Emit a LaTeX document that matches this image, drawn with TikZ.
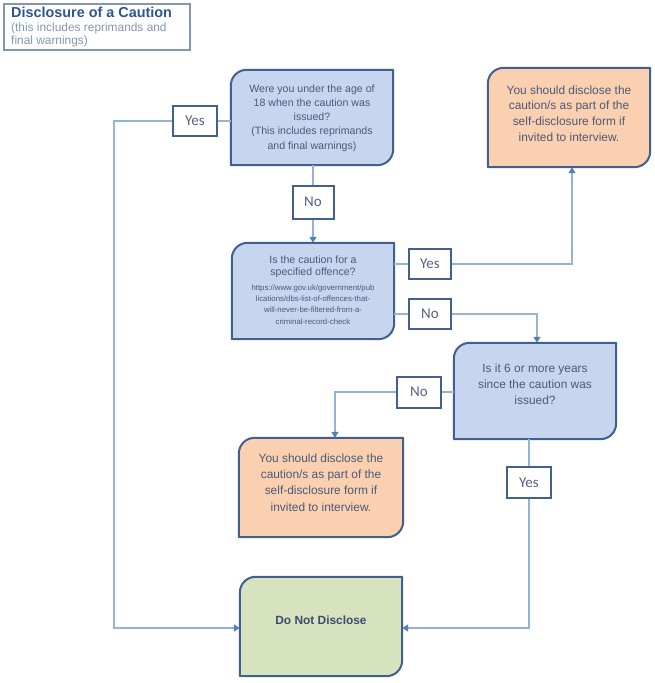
\documentclass[tikz,border=0pt]{standalone}
\usepackage{fontspec}
\setmainfont{Liberation Sans}
\newfontfamily\calib{Carlito}
\usetikzlibrary{arrows.meta,calc,backgrounds}
\definecolor{bord}{RGB}{65,96,142}
\definecolor{qfill}{RGB}{198,214,239}
\definecolor{ofill}{RGB}{250,208,176}
\definecolor{gfill}{RGB}{215,227,190}
\definecolor{txtc}{RGB}{75,90,118}
\definecolor{dndtext}{RGB}{60,75,110}
\definecolor{lbltext}{RGB}{85,100,130}
\definecolor{linec}{RGB}{149,179,215}
\definecolor{arrc}{RGB}{79,129,189}
\definecolor{titlec}{RGB}{47,84,150}
\definecolor{subc}{RGB}{132,151,176}
\definecolor{titleb}{RGB}{132,151,176}
\tikzset{
  shapebox/.style={rectangle, inner sep=0pt, draw=none},
  lbl/.style={rectangle, draw=bord, line width=2pt, fill=white, inner sep=0pt,
    minimum width=43pt, minimum height=30pt,
    font=\calib\fontsize{15}{15}\selectfont, text=lbltext},
  txt/.style={align=center, text=txtc, inner sep=0pt},
  conn/.style={draw=linec, line width=1.4pt},
  arr/.style={conn, -{Triangle[length=6pt,width=7pt,color=arrc]}},
}
\newcommand\cornerbox[2]{%
  \begin{scope}[on background layer]
  \filldraw[fill=#2, draw=bord, line width=2pt, line join=round]
    (#1.south west) -- ($(#1.north west)+(0,16)$)
    .. controls ($(#1.north west)+(0,7)$) and ($(#1.north west)+(7,0)$) .. ($(#1.north west)+(16,0)$)
    -- (#1.north east) -- ($(#1.south east)+(0,-16)$)
    .. controls ($(#1.south east)+(0,-7)$) and ($(#1.south east)+(-7,0)$) .. ($(#1.south east)+(-16,0)$)
    -- cycle;
  \end{scope}}
\begin{document}
\begin{tikzpicture}[x=1pt,y=-1pt]
\useasboundingbox (0,0) rectangle (655,683);

% title
\node[draw=titleb, line width=1.6pt, minimum width=186pt, minimum height=46pt, anchor=north west, inner sep=0pt] (tb) at (3,3) {};
\node[anchor=base west, font=\bfseries\fontsize{14.4}{16}\selectfont, text=titlec, inner sep=0pt] (tt) at (11,17.5) {Disclosure of a Caution};
\node[anchor=base west, font=\fontsize{11.9}{13}\selectfont, text=subc, inner sep=0pt] (st1) at (11,31.5) {(this includes reprimands and};
\node[anchor=base west, font=\fontsize{11.9}{13}\selectfont, text=subc, inner sep=0pt] (st2) at (11,44.5) {final warnings)};

% main boxes
\node[shapebox, minimum width=162pt, minimum height=95pt] (Q1) at (312,117.5) {};
\node[shapebox, minimum width=162pt, minimum height=96pt] (Q2) at (313,291) {};
\node[shapebox, minimum width=162pt, minimum height=99pt] (O1) at (569,117.5) {};
\node[shapebox, minimum width=162pt, minimum height=96pt] (Q3) at (535,391) {};
\node[shapebox, minimum width=164pt, minimum height=99pt] (O2) at (321,487.5) {};
\node[shapebox, minimum width=162pt, minimum height=99pt] (D) at (321,626.5) {};
\cornerbox{Q1}{qfill}
\cornerbox{Q2}{qfill}
\cornerbox{O1}{ofill}
\cornerbox{Q3}{qfill}
\cornerbox{O2}{ofill}
\cornerbox{D}{gfill}

% labels
\node[lbl, minimum width=44pt] (Y1) at (195,121) {Yes};
\node[lbl, minimum width=41pt, minimum height=33pt] (N1) at (313,202) {No};
\node[lbl, minimum width=42pt] (Y2) at (430,264) {Yes};
\node[lbl, minimum width=42pt] (N2) at (430,314) {No};
\node[lbl, minimum width=44pt, minimum height=31pt] (N3) at (419,392) {No};
\node[lbl, minimum width=44pt, minimum height=31pt] (Y3) at (529,482.5) {Yes};

% connectors
\coordinate (L) at (114,628);
\coordinate (R) at (529,628);
\draw[conn] (Y1.east) -- (Y1.east -| Q1.west);
\draw[arr] (Y1.west) -| (L) -- (L -| D.west);
\draw[conn] (N1.north |- Q1.south) -- (N1.north);
\draw[arr] (N1.south) -- (N1.south |- Q2.north);
\draw[conn] (Y2.west -| Q2.east) -- (Y2.west);
\draw[arr] (Y2.east) -| ($(O1.south)+(3,0)$);
\draw[conn] (N2.west -| Q2.east) -- (N2.west);
\draw[arr] (N2.east) -| ($(Q3.north)+(2,0)$);
\draw[conn] (N3.east -| Q3.west) -- (N3.east);
\draw[arr] (N3.west) -| ($(O2.north)+(14,0)$);
\draw[conn] (Y3.north |- Q3.south) -- (Y3.north);
\draw[arr] (Y3.south) -- (R) -- (R -| D.east);

% texts
\node[txt, font=\fontsize{10.6}{14.2}\selectfont] (t1) at (312,118) {Were you under the age of\\18 when the caution was\\issued?\\(This includes reprimands\\and final warnings)};
\node[txt, font=\fontsize{11.9}{15.6}\selectfont] (t2) at (569,113.5) {You should disclose the\\caution/s as part of the\\self-disclosure form if\\invited to interview.};
\node[txt, font=\fontsize{10.6}{12.4}\selectfont] (t3) at (313,267) {Is the caution for a\\specified offence?};
\node[txt, font=\fontsize{7.8}{11.2}\selectfont] (t4) at (313,304.5) {https://www.gov.uk/government/pub\\lications/dbs-list-of-offences-that-\\will-never-be-filtered-from-a-\\criminal-record-check};
\node[txt, font=\fontsize{11.9}{16}\selectfont] (t5) at (535,384) {Is it 6 or more years\\since the caution was\\issued?};
\node[txt, font=\fontsize{11.9}{16.2}\selectfont] (t6) at (321,482.5) {You should disclose the\\caution/s as part of the\\self-disclosure form if\\invited to interview.};
\node[txt, font=\bfseries\fontsize{11.9}{14}\selectfont, text=dndtext] (t7) at (321,620) {Do Not Disclose};
\end{tikzpicture}
\end{document}
